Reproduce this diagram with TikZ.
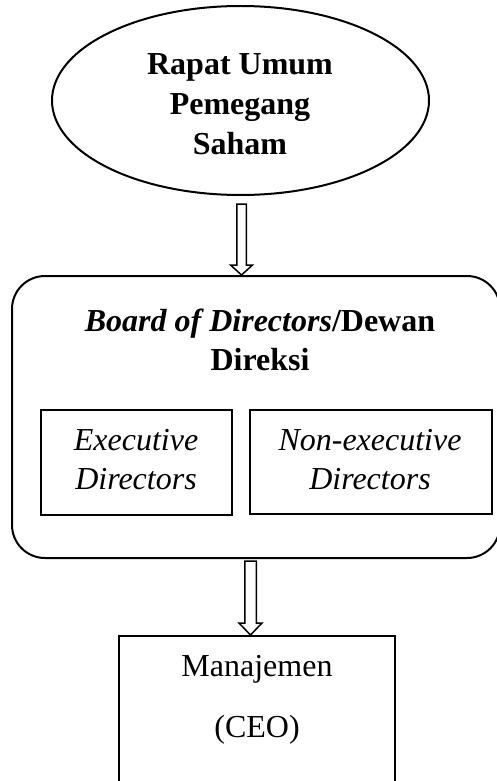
\documentclass[tikz,border=0pt]{standalone}
\usepackage{fontspec}
\setmainfont{Liberation Serif}
\usetikzlibrary{shapes.geometric,calc}
\begin{document}
\begin{tikzpicture}[x=1pt,y=-1pt,
  frame/.style={draw=black, line width=2pt, inner sep=0pt},
  txt/.style={font=\fontsize{32}{39}\selectfont, align=center, inner sep=0pt},
  hollow/.style={draw=black, line width=1.5pt, fill=white, line join=miter}]
\useasboundingbox (0,0) rectangle (497,781);
\clip (0,0) rectangle (497,781);

% shareholders' meeting
\node[frame, ellipse, minimum width=377, minimum height=189] (rups) at (240.5,100.5) {};
\node[txt, font=\bfseries\fontsize{32}{40}\selectfont] (rupstext) at (240,104)
  {Rapat Umum\\Pemegang\\Saham};

% board of directors
\node[frame, rectangle, rounded corners=33pt, minimum width=488, minimum height=282] (board) at (256,417) {};
\node[txt, font=\bfseries\fontsize{32}{39}\selectfont] (boardtext) at (260,339.5)
  {\textit{Board of Directors}/Dewan\\Direksi};

\node[frame, minimum width=191, minimum height=105] (exec) at (136.5,462.5) {};
\node[txt, font=\itshape\fontsize{32}{39}\selectfont] (exectext) at (136,459.5)
  {Executive\\Directors};

\node[frame, minimum width=242, minimum height=104] (nonexec) at (371,462) {};
\node[txt, font=\itshape\fontsize{32}{39}\selectfont] (nonexectext) at (370,459.5)
  {Non-executive\\Directors};

% management
\node[frame, minimum width=276, minimum height=184] (mgmt) at (257,728) {};
\node[txt, font=\fontsize{32}{61}\selectfont] (mgmttext) at (257,700)
  {Manajemen\\(CEO)};

% hollow arrows
\coordinate (a1top) at ($(rups.south)+(1,8)$);
\coordinate (a1tip) at (a1top |- board.north);
\draw[hollow] ($(a1top)+(-4.75,0)$) -- ($(a1tip)+(-4.75,-10)$) -- ($(a1tip)+(-11,-10)$)
  -- (a1tip) -- ($(a1tip)+(11,-10)$) -- ($(a1tip)+(4.75,-10)$) -- ($(a1top)+(4.75,0)$) -- cycle;

\coordinate (a2top) at ($(board.south)+(-5.5,2)$);
\coordinate (a2tip) at (a2top |- mgmt.north);
\draw[hollow] ($(a2top)+(-5.75,0)$) -- ($(a2tip)+(-5.75,-12)$) -- ($(a2tip)+(-11.5,-12)$)
  -- (a2tip) -- ($(a2tip)+(11.5,-12)$) -- ($(a2tip)+(5.75,-12)$) -- ($(a2top)+(5.75,0)$) -- cycle;
\end{tikzpicture}
\end{document}
